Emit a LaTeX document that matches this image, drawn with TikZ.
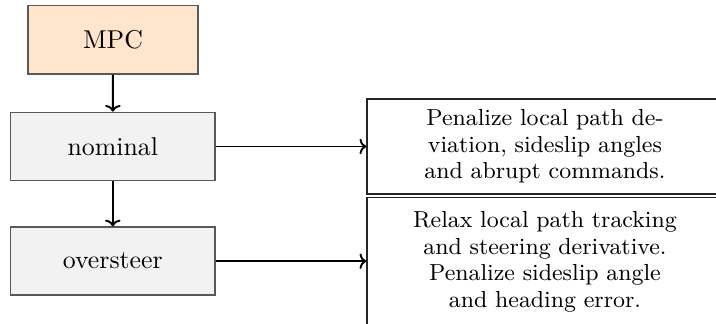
\documentclass[tikz,border=0pt]{standalone}
\usetikzlibrary{arrows.meta}
\begin{document}
\begin{tikzpicture}[x=0.3876pt, y=-0.3876pt,
  mainbox/.style={draw=black!65, line width=0.6pt, minimum height=26.4pt,
    inner sep=0pt, font=\fontsize{10}{12}\selectfont},
  ctrlbox/.style={mainbox, fill=orange!20, minimum width=66.1pt},
  modebox/.style={mainbox, fill=black!5, minimum width=79.2pt},
  notebox/.style={draw=black!85, line width=0.6pt, minimum width=138pt,
    text width=130pt, align=center, inner sep=0pt,
    font=\fontsize{9}{10.3}\selectfont},
  flow/.style={-{To[length=2.6pt,width=6pt]}, line width=0.75pt}
]
\clip (0,0) rectangle (716,323);
\useasboundingbox (0,0) rectangle (716,323);

\node[ctrlbox] (mpc) at (113,39.7) {MPC};
\node[modebox] (nom) at (112.8,146.5) {nominal};
\node[modebox] (ovs) at (112.8,261.2) {oversteer};

\node[notebox, minimum height=36.8pt] (nnote) at (545,146.5)
  {Penalize local path de-\\viation, sideslip angles\\and abrupt commands.};
\node[notebox, minimum height=50pt] (onote) at (545,262)
  {Relax local path tracking\\and steering derivative.\\Penalize sideslip angle\\and heading error.};

\draw[flow] (mpc) -- (nom);
\draw[flow] (nom) -- (ovs);
\draw[flow] (nom.east) -- (nnote.west);
\draw[flow] (ovs.east) -- (nnote.west |- ovs.east);
\end{tikzpicture}
\end{document}
